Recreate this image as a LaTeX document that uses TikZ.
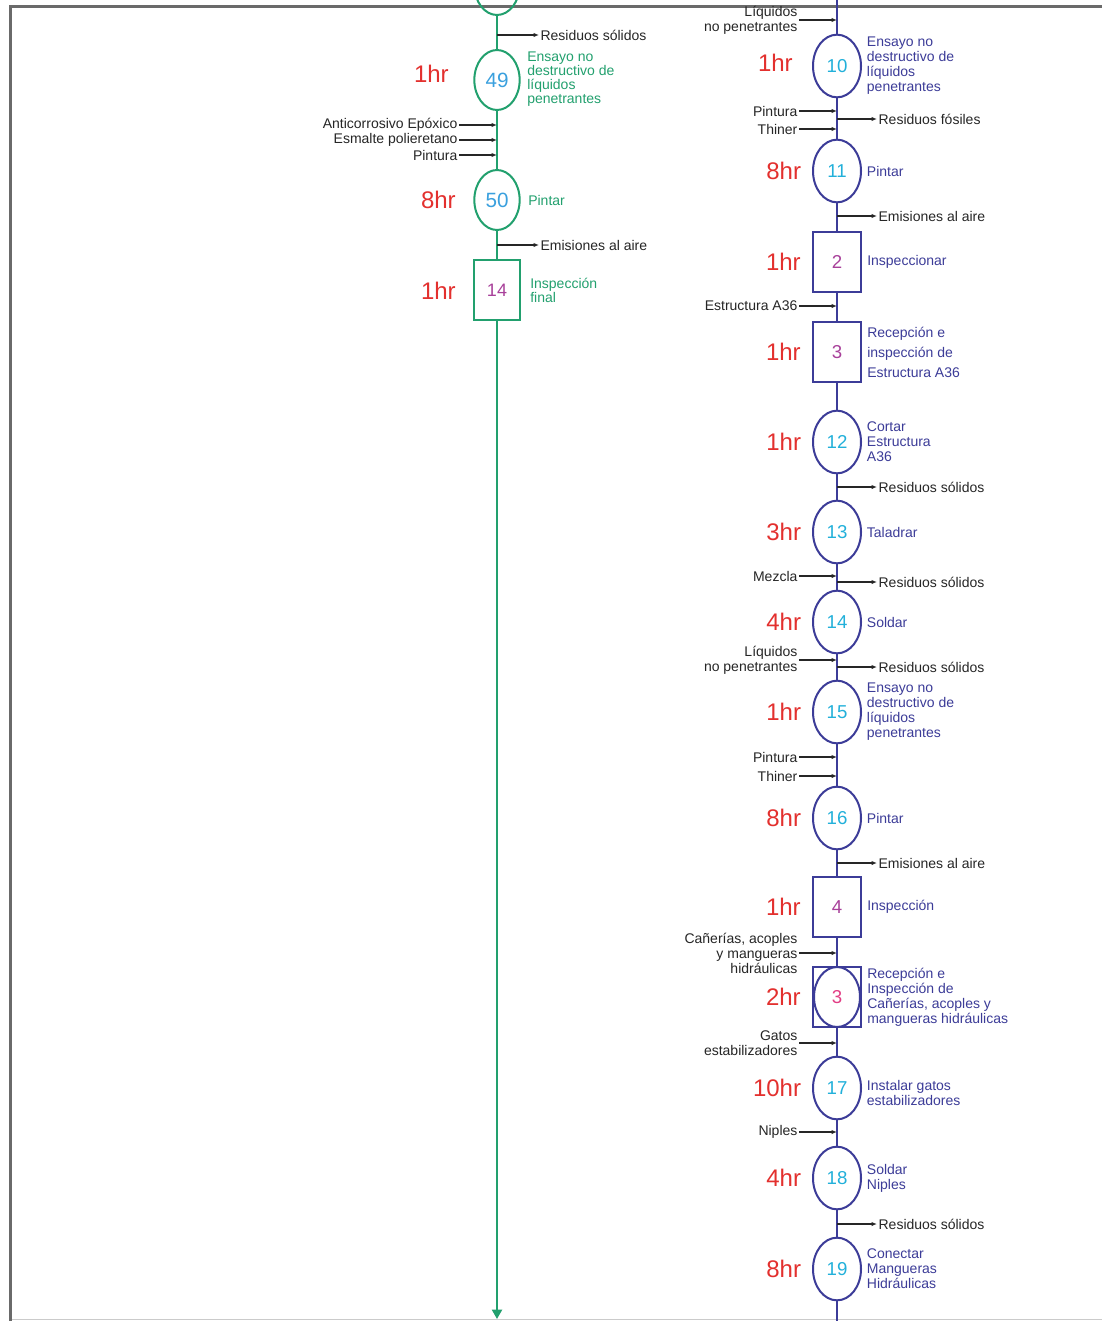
\documentclass[tikz,border=0pt]{standalone}
\usepackage{fontspec}
\setmainfont{Liberation Sans}
\usetikzlibrary{arrows.meta,shapes.geometric}
\definecolor{leaf}{HTML}{22A06E}
\definecolor{indigo}{HTML}{3C3C98}
\definecolor{numcyan}{HTML}{22B0DA}
\definecolor{numsky}{HTML}{3AA0DE}
\definecolor{nummag}{HTML}{A8409A}
\definecolor{numpink}{HTML}{E23C84}
\definecolor{hrred}{HTML}{E3302E}
\definecolor{ink}{HTML}{262626}
\definecolor{rim}{HTML}{6A6A6A}
\tikzset{
  opG/.style={ellipse,draw=leaf,line width=1.5pt,minimum width=34pt,minimum height=45pt,inner sep=0pt,text=numsky,font=\fontsize{15.5}{16}\selectfont},
  inG/.style={rectangle,draw=leaf,line width=1.5pt,minimum width=35pt,minimum height=45pt,inner sep=0pt,text=nummag,font=\fontsize{13.5}{14}\selectfont},
  opB/.style={ellipse,draw=indigo,line width=1.5pt,minimum width=36pt,minimum height=47pt,inner sep=0pt,text=numcyan,font=\fontsize{14}{15}\selectfont},
  inB/.style={rectangle,draw=indigo,line width=1.5pt,minimum width=36.5pt,minimum height=45.5pt,inner sep=0pt,text=nummag,font=\fontsize{14}{15}\selectfont},
  hrs/.style={anchor=east,inner sep=0pt,text=hrred,font=\fontsize{18}{20}\selectfont},
  descG/.style={anchor=west,align=left,inner sep=0pt,text=leaf,font=\fontsize{10.5}{10.5}\selectfont},
  descB/.style={anchor=west,align=left,inner sep=0pt,text=indigo,font=\fontsize{10.5}{11.25}\selectfont},
  feedtxt/.style={anchor=east,align=right,inner sep=1pt,text=ink,font=\fontsize{10.5}{11.25}\selectfont},
  wastetxt/.style={anchor=west,inner sep=1pt,text=ink,font=\fontsize{10.5}{11.25}\selectfont},
  feed/.style={-{Latex[length=4pt,width=3.2pt]},ink,line width=1.1pt},
  axisG/.style={leaf,line width=1.5pt},
  axisB/.style={indigo,line width=1.5pt}
}
\begin{document}
\begin{tikzpicture}[x=0.75pt,y=-0.75pt]
\useasboundingbox (0,0) rectangle (1102,1321);
\clip (0,0) rectangle (1102,1321);
\fill[white] (0,0) rectangle (1102,1321);
\draw[rim!35,line width=1pt] (10,1319.5) -- (1102,1319.5);
\draw[rim,line width=2.25pt] (10,1321) -- (10,6) -- (1102,6);

% left column (green)
\node[opG] (opL48) at (497,-15) {};
\node[opG] (opL49) at (497,80) {49};
\node[opG] (opL50) at (497,200) {50};
\node[inG] (inL14) at (497,290) {14};
\coordinate (endL) at (497,1319);
\foreach \a/\b in {opL48/opL49,opL49/opL50,opL50/inL14} \draw[axisG] (\a) -- (\b);
\draw[axisG,-{Triangle[length=7pt,width=7.5pt]}] (inL14) -- (endL);
\node[hrs] (hL49) at (449,74) {1hr};
\node[hrs] (hL50) at (456,200) {8hr};
\node[hrs] (hL14) at (456,291) {1hr};
\node[descG] (dL49) at (527,79) {Ensayo no\\destructivo de\\líquidos\\penetrantes};
\node[descG] (dL50) at (528,200) {Pintar};
\node[descG] (dL14) at (530,290) {Inspección\\final};
\foreach \y/\t [count=\i] in {35/Residuos sólidos,245/Emisiones al aire} {
  \node[wastetxt] (woL\i) at (539,\y) {\t};
  \draw[feed] (woL\i.west -| opL49) -- (woL\i.west);
}
\foreach \y/\t [count=\i] in {125/Anticorrosivo Epóxico,140/Esmalte polieretano,155/Pintura} {
  \node[feedtxt] (fiL\i) at (459,\y) {\t};
  \draw[feed] (fiL\i.east) -- (fiL\i.east -| opL50);
}

% right column (indigo)
\coordinate (topR) at (837,0);
\coordinate (endR) at (837,1321);
\node[opB] (op10) at (837,66) {10};
\node[opB] (op11) at (837,171) {11};
\node[inB] (in2) at (837,262) {2};
\node[inB] (in3) at (837,352) {3};
\node[opB] (op12) at (837,442) {12};
\node[opB] (op13) at (837,532) {13};
\node[opB] (op14) at (837,622) {14};
\node[opB] (op15) at (837,712) {15};
\node[opB] (op16) at (837,818) {16};
\node[inB] (in4) at (837,907) {4};
\node[inB] (rc3) at (837,997) {};
\node[opB,minimum width=34.5pt,minimum height=45pt,text=numpink] (rc3c) at (rc3) {3};
\node[opB] (op17) at (837,1088) {17};
\node[opB] (op18) at (837,1178) {18};
\node[opB] (op19) at (837,1269) {19};
\foreach \a/\b in {topR/op10,op10/op11,op11/in2,in2/in3,in3/op12,op12/op13,op13/op14,op14/op15,op15/op16,op16/in4,in4/rc3,rc3/op17,op17/op18,op18/op19,op19/endR}
  \draw[axisB] (\a) -- (\b);
\node[hrs] (h10) at (793,63) {1hr};
\foreach \n/\t in {op11/8hr,in2/1hr,in3/1hr,op12/1hr,op13/3hr,op14/4hr,op15/1hr,op16/8hr,in4/1hr,rc3/2hr,op17/10hr,op18/4hr,op19/8hr}
  \node[hrs] (h\n) at ([xshift=-8pt]\n.west) {\t};
\node[descB] (d10) at ([xshift=3.5pt]op10.east) {Ensayo no\\destructivo de\\líquidos\\penetrantes};
\node[descB] (d11) at ([xshift=3.5pt]op11.east) {Pintar};
\node[descB] (d2) at ([xshift=3.5pt]in2.east) {Inspeccionar};
\node[descB,font=\fontsize{10.5}{15}\selectfont] (d3) at ([xshift=3.5pt]in3.east) {Recepción e\\inspección de\\Estructura A36};
\node[descB] (d12) at ([xshift=3.5pt]op12.east) {Cortar\\Estructura\\A36};
\node[descB] (d13) at ([xshift=3.5pt]op13.east) {Taladrar};
\node[descB] (d14) at ([xshift=3.5pt]op14.east) {Soldar};
\node[descB] (d15) at ([xshift=3.5pt]op15.east) {Ensayo no\\destructivo de\\líquidos\\penetrantes};
\node[descB] (d16) at ([xshift=3.5pt]op16.east) {Pintar};
\node[descB] (d4) at ([xshift=3.5pt]in4.east) {Inspección};
\node[descB] (dr3) at ([xshift=3.5pt]rc3.east) {Recepción e\\Inspección de\\Cañerías, acoples y\\mangueras hidráulicas};
\node[descB] (d17) at ([xshift=3.5pt,yshift=-4pt]op17.east) {Instalar gatos\\estabilizadores};
\node[descB] (d18) at ([xshift=3.5pt]op18.east) {Soldar\\Niples};
\node[descB] (d19) at ([xshift=3.5pt]op19.east) {Conectar\\Mangueras\\Hidráulicas};
\foreach \y/\t [count=\i] in {119/Residuos fósiles,216/Emisiones al aire,487/Residuos sólidos,582/Residuos sólidos,667/Residuos sólidos,863/Emisiones al aire,1224/Residuos sólidos} {
  \node[wastetxt] (wo\i) at (877,\y) {\t};
  \draw[feed] (wo\i.west -| op10) -- (wo\i.west);
}
\foreach \y/\t [count=\i] in {111/Pintura,129/Thiner,306/Estructura A36,576/Mezcla,757/Pintura,776/Thiner,1132/Niples} {
  \node[feedtxt] (fi\i) at (799,\y) {\t};
  \draw[feed] (fi\i.east) -- (fi\i.east -| op10);
}
\node[feedtxt] (fiA) at (799,20) {Líquidos\\no penetrantes};
\node[feedtxt] (fiB) at (799,660) {Líquidos\\no penetrantes};
\node[feedtxt] (fiC) at (799,953) {Cañerías, acoples\\y mangueras\\hidráulicas};
\node[feedtxt] (fiD) at (799,1043) {Gatos\\estabilizadores};
\foreach \f in {fiA,fiB,fiC,fiD} \draw[feed] (\f.east) -- (\f.east -| op10);
\end{tikzpicture}
\end{document}
